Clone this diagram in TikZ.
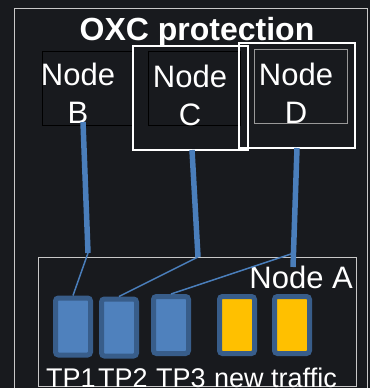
\documentclass[tikz,border=0pt]{standalone}
\usepackage{fontspec}
\setmainfont{Liberation Sans}
\definecolor{bg}{HTML}{181A1E}
\definecolor{frame}{HTML}{C8C8C8}
\definecolor{link}{HTML}{4A7EBB}
\definecolor{tpfill}{HTML}{4F81BD}
\definecolor{tpedge}{HTML}{385D8A}
\definecolor{newfill}{HTML}{FFC000}
\begin{document}
\begin{tikzpicture}[x=1pt,y=-1pt,
  lbl/.style={text=white,inner sep=0pt,font=\fontsize{31}{38}\selectfont,align=center,anchor=base},
  tplbl/.style={text=white,inner sep=0pt,font=\fontsize{27}{30}\selectfont,anchor=base west},
  port/.style={draw=tpedge,line width=5pt,rounded corners=3pt,fill=#1,minimum width=35pt,minimum height=57pt,inner sep=0pt},
  thick link/.style={draw=link,line width=5.5pt},
  thin link/.style={draw=link,line width=1.5pt}]
\fill[bg] (0,0) rectangle (370,388);
\useasboundingbox (0,0) rectangle (370,388);
% outer frame
\draw[frame,line width=1pt] (14,8) rectangle (367,395);
\node[text=white,inner sep=0pt,font=\bfseries\fontsize{32}{34}\selectfont,anchor=base] (title) at (197,40) {OXC protection};
% node boxes
\draw[black,line width=1pt] (42,51) rectangle (133,125);
\draw[white,line width=1.2pt] (133,46) rectangle (248,150);
\draw[black,line width=1pt] (148,51) rectangle (240,125);
\draw[white,line width=1.2pt] (239,43) rectangle (355,148);
\draw[gray!80,line width=1pt] (254,49) rectangle (347,123);
\node[lbl] (nb) at (78,123) {Node\\B};
\node[lbl] (nc) at (190,125) {Node\\C};
\node[lbl] (nd) at (296,123) {Node\\D};
% node A
\draw[frame,line width=1pt] (38,257) rectangle (356,386);
\node[text=white,inner sep=0pt,font=\fontsize{31}{32}\selectfont,anchor=base east] (na) at (353,288) {Node A};
% ports
\node[port=tpfill] (tp1) at (73,326.5) {};
\node[port=tpfill] (tp2) at (119,327.5) {};
\node[port=tpfill] (tp3) at (171,325) {};
\node[port=newfill] (n1) at (237,325) {};
\node[port=newfill] (n2) at (292,325) {};
\node[tplbl] (l1) at (46,387) {TP1};
\node[tplbl] (l2) at (98,387) {TP2};
\node[tplbl] (l3) at (156,387) {TP3};
\node[tplbl] (l4) at (214,387) {new traffic};
% links
\coordinate (bs) at (83,122);
\coordinate (be) at (88,253);
\coordinate (cs) at (192,150);
\coordinate (ce) at (198,257);
\coordinate (ds) at (297,148);
\coordinate (de) at (293,267);
\coordinate (dm) at (291,254);
\draw[thick link] (bs) -- (be);
\draw[thick link] (cs) -- (ce);
\draw[thick link] (ds) -- (de);
\draw[thin link] (be) -- (tp1.north);
\draw[thin link] (ce) -- (tp2.north);
\draw[thin link] (dm) -- (tp3.north);
\end{tikzpicture}
\end{document}
